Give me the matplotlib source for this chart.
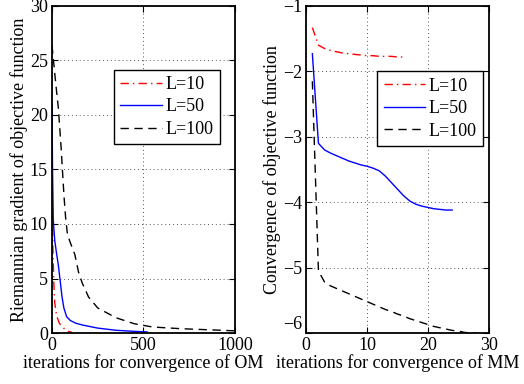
import matplotlib
matplotlib.use("Agg")
import matplotlib.pyplot as plt

plt.rcParams['font.family'] = ['Liberation Serif', 'DejaVu Serif']
plt.rcParams['font.size'] = 13

# Left panel: Riemannian gradient vs iterations (OM)
om_l10_x = [0, 3, 6, 10, 15, 25, 40, 55, 70, 90, 110]
om_l10_y = [13.0, 10.0, 7.0, 4.6, 2.8, 1.6, 0.9, 0.6, 0.35, 0.15, 0.05]
om_l50_x = [0, 3, 7, 15, 25, 35, 44, 55, 65, 80, 100, 130, 170, 250, 350, 450, 520]
om_l50_y = [20.9, 15.0, 10.4, 8.5, 7.3, 6.2, 4.9, 3.3, 2.3, 1.5, 1.15, 0.9, 0.72, 0.45, 0.25, 0.15, 0.1]
om_l100_x = [0, 20, 35, 50, 58, 66, 75, 85, 100, 125, 145, 165, 200, 250, 350, 450, 550, 700, 850, 1000]
om_l100_y = [26.4, 23.0, 20.6, 17.0, 14.7, 12.5, 10.5, 9.0, 8.3, 7.2, 5.6, 4.6, 3.3, 2.3, 1.4, 0.85, 0.55, 0.4, 0.3, 0.2]

# Right panel: objective vs iterations (MM)
mm_l10_x = list(range(1, 17))
mm_l10_y = [-1.33, -1.60, -1.65, -1.68, -1.70, -1.72, -1.73, -1.74, -1.75, -1.76,
            -1.76, -1.77, -1.77, -1.77, -1.78, -1.78]
mm_l50_x = list(range(1, 25))
mm_l50_y = [-1.73, -3.10, -3.20, -3.25, -3.29, -3.33, -3.37, -3.40, -3.43, -3.45,
            -3.48, -3.52, -3.60, -3.70, -3.80, -3.90, -3.98, -4.03, -4.06, -4.08,
            -4.10, -4.11, -4.12, -4.12]
mm_l100_x = list(range(1, 29))
mm_l100_y = [-2.15, -5.05, -5.22, -5.28, -5.32, -5.36, -5.40, -5.44, -5.48, -5.52,
             -5.56, -5.60, -5.64, -5.67, -5.71, -5.74, -5.78, -5.81, -5.84, -5.87,
             -5.90, -5.92, -5.94, -5.96, -5.97, -5.99, -6.00, -6.00]

labels = ['L=10', 'L=50', 'L=100']

fig = plt.figure(figsize=(5.24, 3.84), dpi=100)
ax1 = fig.add_axes([0.0992, 0.1328, 0.349, 0.8516])
ax2 = fig.add_axes([0.5845, 0.1328, 0.348, 0.8516])

def style(ax):
    for s in ax.spines.values():
        s.set_linewidth(1.3)
        s.set_color('black')
    ax.tick_params(direction='in', top=True, right=True, length=4, width=0.8, labelsize=13, pad=3)
    ax.grid(True, linestyle=(0, (1, 3)), color='#555555', linewidth=0.7)

leg_kw = dict(loc='upper left', frameon=True, fancybox=False, edgecolor='black',
              framealpha=1, handlelength=2.3, borderpad=0.35, labelspacing=0.3,
              handletextpad=0.2, fontsize=13, borderaxespad=0)

ax1.plot(om_l10_x, om_l10_y, color='red', lw=1.0, dashes=(6, 3, 1, 3), label=labels[0])
ax1.plot(om_l50_x, om_l50_y, color='blue', lw=1.0, label=labels[1])
ax1.plot(om_l100_x, om_l100_y, color='black', lw=1.0, dashes=(6, 4), label=labels[2])
ax1.set_xlim(0, 1000)
ax1.set_ylim(0, 30)
ax1.set_xticks([0, 500, 1000])
ax1.set_yticks([0, 5, 10, 15, 20, 25, 30])
ax1.set_xlabel('iterations for convergence of OM', fontsize=13, labelpad=0)
ax1.set_ylabel('Riemannian gradient of objective function', fontsize=13, labelpad=1)
style(ax1)
ax1.legend(bbox_to_anchor=(0.34, 0.805), **leg_kw)

ax2.plot(mm_l10_x, mm_l10_y, color='red', lw=1.0, dashes=(6, 3, 1, 3), label=labels[0])
ax2.plot(mm_l50_x, mm_l50_y, color='blue', lw=1.0, label=labels[1])
ax2.plot(mm_l100_x, mm_l100_y, color='black', lw=1.0, dashes=(6, 4), label=labels[2])
ax2.set_xlim(0, 30)
ax2.set_ylim(-6, -1)
ax2.set_xticks([0, 10, 20, 30])
ax2.set_yticks([-6, -5, -4, -3, -2, -1])
ax2.set_xlabel('iterations for convergence of MM', fontsize=13, labelpad=0)
ax2.set_ylabel('Convergence of objective function', fontsize=13, labelpad=1)
style(ax2)
ax2.get_yticklabels()[0].set_verticalalignment('bottom')
ax2.legend(bbox_to_anchor=(0.39, 0.80), **leg_kw)

fig.savefig('out.png', dpi=100)
